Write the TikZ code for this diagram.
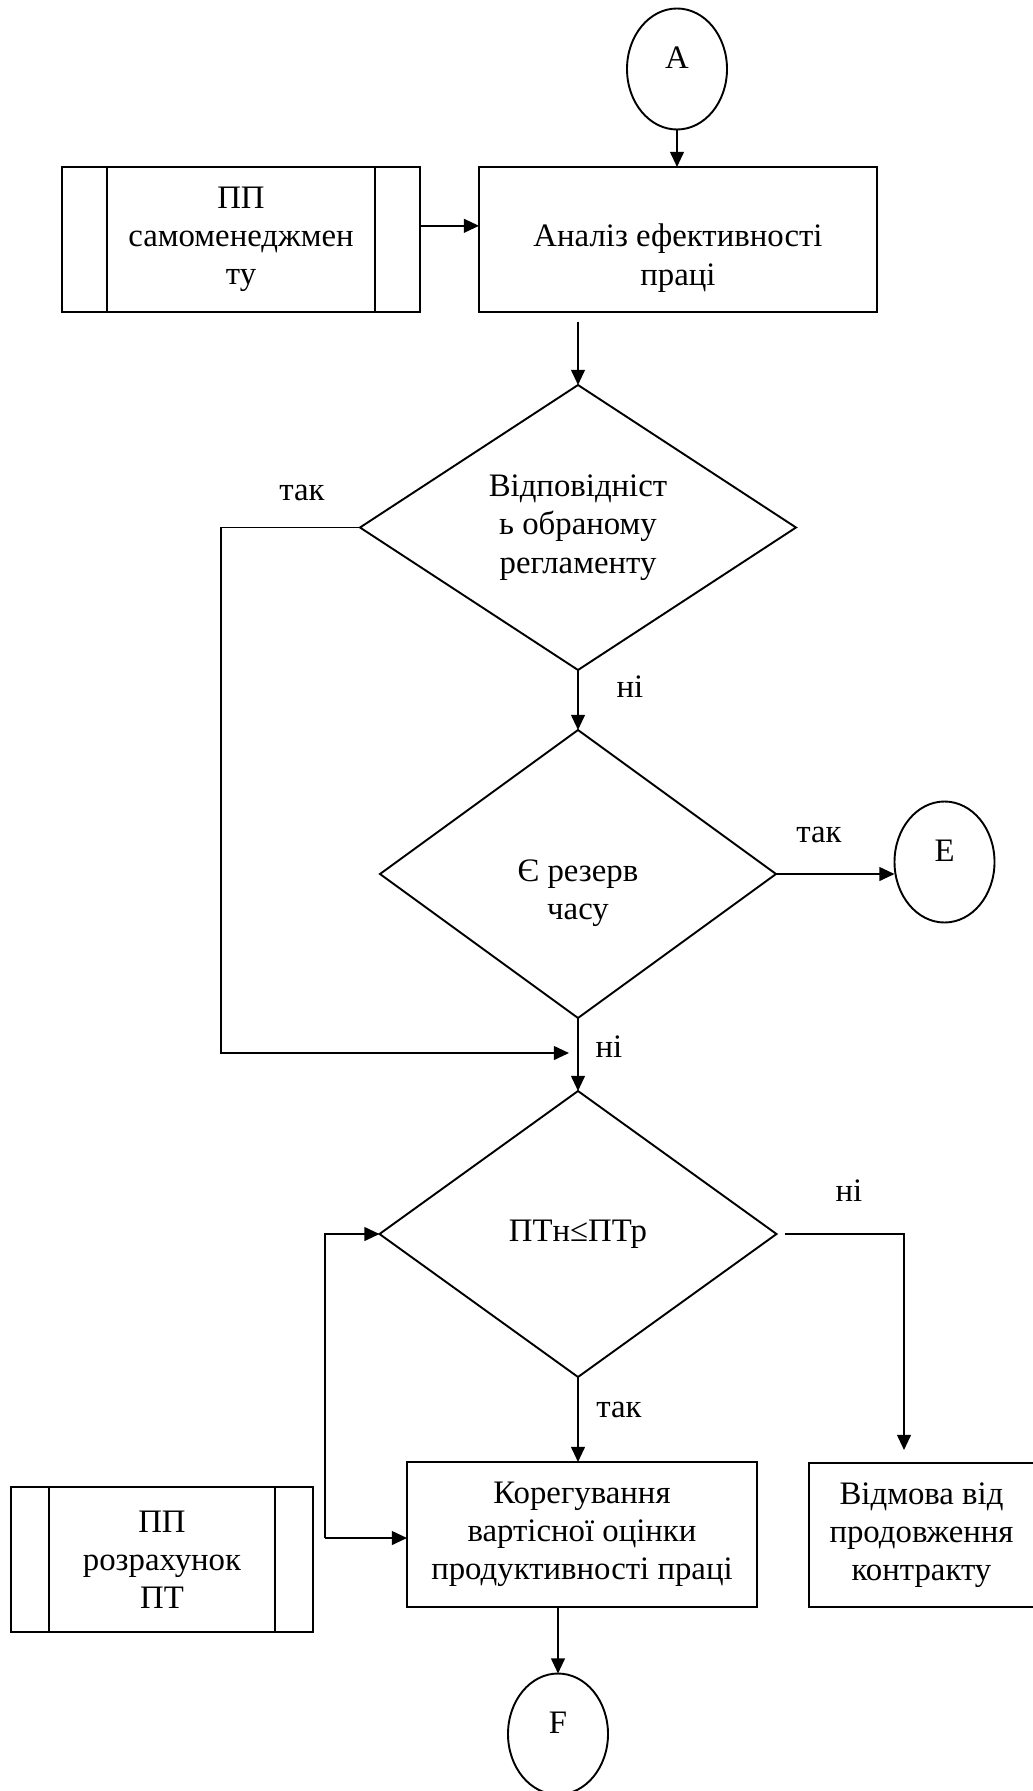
\documentclass[tikz,border=0pt]{standalone}
\usepackage{fontspec}
\setmainfont{Liberation Serif}
\usepackage{tikz}
\usetikzlibrary{calc}
\usetikzlibrary{arrows.meta}
\usetikzlibrary{shapes.geometric}
\usetikzlibrary{positioning}

\def\pxu{0.366pt}

\begin{document}
\begin{tikzpicture}[x=\pxu,y=-\pxu]
    \tikzstyle{every node}=[font=\fontsize{12}{14}\selectfont,align=center,inner sep=0pt,outer sep=0pt]
    \tikzstyle{every path}=[line width=0.7pt]
    \tikzstyle{flowbox}=[draw=black,rectangle]
    \tikzstyle{flowcond}=[draw=black,diamond]
    \tikzstyle{flowlink}=[draw=black,ellipse,minimum width=100*\pxu,minimum height=121*\pxu]
    \tikzstyle{flowarrow}=[draw=black,-{Triangle[length=5.5pt,width=5pt]}]

    \useasboundingbox (0,0) rectangle (1032,1791);

   \node[flowlink] (linkA) at (677,69) {\rule[-8pt]{0pt}{8pt}A};

   \node[flowbox,minimum width=358*\pxu,minimum height=145*\pxu] (selfmgmt) at (241,239.5) {ПП\\самоменеджмен\\ту}
     ($(\tikzlastnode.north west)+(45,0)$)edge($(\tikzlastnode.south west)+(45,0)$)
     ($(\tikzlastnode.north east)-(45,0)$)edge($(\tikzlastnode.south east)-(45,0)$);

   \node[flowbox,minimum width=398*\pxu,minimum height=145*\pxu] (analysis) at (678,239.5) {\rule{0pt}{22pt}Аналіз ефективності\\праці};

   \node[flowcond,aspect=1.53,minimum width=436*\pxu,minimum height=285*\pxu] (check1) at (578,527.5) {Відповідніст\\ь обраному\\регламенту};

   \node[flowcond,aspect=1.375,minimum width=396*\pxu,minimum height=288*\pxu] (check2) at (578,874) {\rule{0pt}{22pt}Є резерв\\часу};

   \node[flowlink] (linkE) at (944.5,862) {\rule[-8pt]{0pt}{8pt}E};

   \node[flowcond,aspect=1.39,minimum width=397*\pxu,minimum height=286*\pxu] (check3) at (578,1234) {ПТн≤ПТр};

   \node[flowbox,minimum width=350*\pxu,minimum height=145*\pxu] (correct) at (582,1534.5) {Корегування\\вартісної оцінки\\продуктивності праці};

   \node[flowbox,minimum width=225*\pxu,minimum height=144*\pxu] (reject) at (921.5,1535) {Відмова від\\продовження\\контракту};

   \node[flowbox,minimum width=302*\pxu,minimum height=145*\pxu] (calcpt) at (162,1559.5) {ПП\\розрахунок\\ПТ}
     ($(\tikzlastnode.north west)+(38,0)$)edge($(\tikzlastnode.south west)+(38,0)$)
     ($(\tikzlastnode.north east)-(38,0)$)edge($(\tikzlastnode.south east)-(38,0)$);

   \node[flowlink] (linkF) at (558,1734) {\rule[-8pt]{0pt}{8pt}F};

   \node (yes1) at (302,493) {так};
   \node (no1) at (630,687) {ні};
   \node (yes2) at (819,835) {так};
   \node (no2) at (609,1047) {ні};
   \node (no3) at (849,1191) {ні};
   \node (yes3) at (619,1410) {так};

   \coordinate (merge) at (569,1053);
   \coordinate (loop) at (325,1538);

   \draw[flowarrow] (linkA) -- (linkA |- analysis.north);
   \draw[flowarrow] ([yshift=5pt]selfmgmt.east) -- ([yshift=5pt]analysis.west);
   \draw[flowarrow] ($(analysis.south -| check1.north)+(0,10)$) -- (check1.north);
   \draw[flowarrow] (check1.west) -- ++(-139,0) |- (merge);
   \draw[flowarrow] (check1.south) -- (check2.north);
   \draw[flowarrow] (check2.east) -- (check2.east -| linkE.west);
   \draw[flowarrow] (check2.south) -- (check3.north);
   \draw[flowarrow] ($(check3.east)+(8,0)$) -| ($(reject.north)+(-17.5,-13)$);
   \draw[flowarrow] (check3.south) -- (check3.south |- correct.north);
   \draw[flowarrow] (correct.south -| linkF.north) -- (linkF.north);
   \draw[flowarrow] (loop) -- (loop -| correct.west);
   \draw[flowarrow] (loop) |- (check3.west);

\end{tikzpicture}
\end{document}
